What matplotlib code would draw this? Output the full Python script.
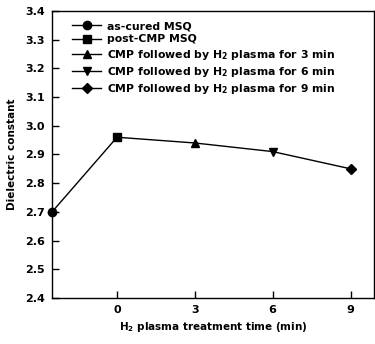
import matplotlib.pyplot as plt
from matplotlib.lines import Line2D

plt.rcParams['font.family'] = ['DejaVu Sans']
plt.rcParams['font.weight'] = 'bold'
plt.rcParams['mathtext.fontset'] = 'dejavusans'

# data
times = [-2.5, 0, 3, 6, 9]
k_values = [2.70, 2.96, 2.94, 2.91, 2.85]
labels = ['as-cured MSQ', 'post-CMP MSQ',
          r'CMP followed by H$_\mathbf{2}$ plasma for 3 min',
          r'CMP followed by H$_\mathbf{2}$ plasma for 6 min',
          r'CMP followed by H$_\mathbf{2}$ plasma for 9 min']
markers = ['o', 's', '^', 'v', 'D']
xticks = [0, 3, 6, 9]

fig = plt.figure(figsize=(3.75, 3.44), dpi=100)
ax = fig.add_axes([0.139, 0.134, 0.858, 0.834])

ax.plot(times, k_values, color='black', linewidth=1.0, zorder=2)
handles = []
for t, k, m, lab in zip(times, k_values, markers, labels):
    ms = 5.5 if m == 'D' else 6
    ax.plot([t], [k], marker=m, color='black', markersize=ms, linestyle='none',
            clip_on=False, zorder=3)
    handles.append(Line2D([], [], color='black', marker=m, markersize=ms,
                          linewidth=1.0, label=lab))

ax.set_xlim(-2.5, 9.9)
ax.set_ylim(2.4, 3.4)
ax.set_xticks(xticks)
ax.set_yticks([2.4, 2.5, 2.6, 2.7, 2.8, 2.9, 3.0, 3.1, 3.2, 3.3, 3.4])
ax.tick_params(direction='in', length=5, width=1, labelsize=8, pad=5)
for s in ax.spines.values():
    s.set_linewidth(1.0)

ax.set_xlabel(r'H$_\mathbf{2}$ plasma treatment time (min)', fontsize=7.5,
              fontweight='bold', labelpad=4)
ax.set_ylabel('Dielectric constant', fontsize=7.5, fontweight='bold', labelpad=6)

leg = ax.legend(handles=handles, loc='upper left', bbox_to_anchor=(0.062, 0.965),
                frameon=False, fontsize=7.8, handlelength=2.7, labelspacing=0.3,
                handletextpad=0.5, borderaxespad=0, borderpad=0)

plt.savefig('out.png', dpi=100)
